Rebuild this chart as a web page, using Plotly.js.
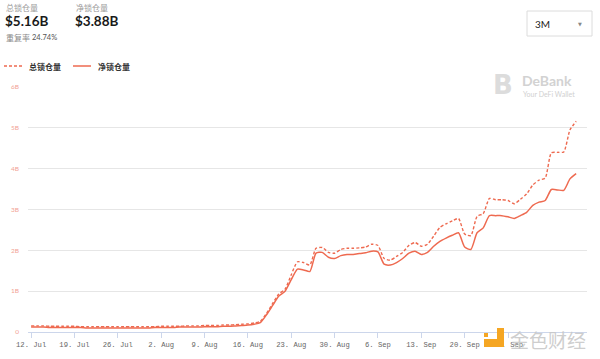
<!DOCTYPE html>
<html>
<head>
<meta charset="utf-8">
<script src="https://cdn.plot.ly/plotly-3.0.1.min.js"></script>
<style>
html,body{margin:0;padding:0;background:#fff;}
#chart{width:600px;height:359px;}
</style>
</head>
<body>
<div id="chart"></div>
<script>
// ---- data (daily, starting 2021-07-12), values in billions USD ----
const startDate = '2021-07-12';
const totalLocked = [
  0.15,0.15,0.15,0.14,0.14,0.14,0.14,
  0.14,0.13,0.13,0.13,0.13,0.13,0.13,
  0.13,0.13,0.13,0.13,0.13,0.13,0.13,
  0.14,0.14,0.14,0.14,0.15,0.15,0.15,
  0.16,0.16,0.16,0.17,0.17,0.18,0.19,
  0.20,0.22,0.26,0.45,0.70,0.93,1.05,
  1.40,1.72,1.70,1.64,2.05,2.07,1.95,
  1.93,2.02,2.05,2.05,2.06,2.08,2.15,
  2.12,1.80,1.76,1.85,1.95,2.12,2.19,
  2.10,2.15,2.35,2.56,2.65,2.72,2.78,
  2.40,2.36,2.83,2.90,3.27,3.24,3.24,
  3.22,3.14,3.25,3.38,3.60,3.72,3.77,
  4.39,4.40,4.41,4.95,5.16
];
const netLocked = [
  0.12,0.12,0.12,0.11,0.11,0.11,0.11,
  0.11,0.11,0.10,0.10,0.10,0.10,0.10,
  0.10,0.10,0.10,0.10,0.10,0.10,0.11,
  0.11,0.11,0.11,0.12,0.12,0.12,0.12,
  0.13,0.13,0.13,0.14,0.14,0.15,0.16,
  0.17,0.19,0.23,0.42,0.65,0.88,1.00,
  1.28,1.54,1.52,1.48,1.93,1.95,1.83,
  1.80,1.87,1.90,1.90,1.92,1.94,1.98,
  1.96,1.66,1.64,1.70,1.80,1.93,1.98,
  1.90,1.95,2.10,2.22,2.30,2.37,2.43,
  2.08,2.02,2.43,2.55,2.85,2.85,2.85,
  2.82,2.78,2.85,2.93,3.10,3.18,3.22,
  3.49,3.48,3.47,3.75,3.88
];
const seriesNames = ['总锁仓量', '净锁仓量'];
const xTickVals = ['2021-07-12','2021-07-19','2021-07-26','2021-08-02','2021-08-09','2021-08-16','2021-08-23','2021-08-30','2021-09-06','2021-09-13','2021-09-20','2021-09-27'];
const xTickText = ['12. Jul','19. Jul','26. Jul','2. Aug','9. Aug','16. Aug','23. Aug','30. Aug','6. Sep','13. Sep','20. Sep','27. Sep'];
const yTickVals = [0,1,2,3,4,5,6];
const yTickText = ['0','1B','2B','3B','4B','5B','6B'];
const summaryLabels = ['总锁仓量', '净锁仓量', '重复率'];
const summaryValues = ['$5.16B', '$3.88B', '24.74%'];
const rangeLabel = '3M';

// build date axis
const dates = [];
{
  const d0 = new Date(startDate + 'T00:00:00Z');
  for (let i = 0; i < totalLocked.length; i++) {
    const d = new Date(d0.getTime() + i * 86400000);
    dates.push(d.toISOString().slice(0, 10));
  }
}

const lineColor = '#ee6a50';
const cjk = '"Noto Sans CJK SC", "Noto Sans", sans-serif';

// page layout geometry (pixels)
const W = 600, H = 359, ML = 28, MR = 13, MT = 87, MB = 27;
const PW = W - ML - MR, PH = H - MT - MB;
const px = x => (x - ML) / PW;
const py = y => (H - MB - y) / PH;

const traces = [
  {x: dates, y: totalLocked, name: seriesNames[0], type: 'scatter', mode: 'lines',
   line: {color: lineColor, width: 1.4, dash: '3px,2px', shape: 'spline', smoothing: 0.6}, hoverinfo: 'x+y'},
  {x: dates, y: netLocked, name: seriesNames[1], type: 'scatter', mode: 'lines',
   line: {color: lineColor, width: 1.5, shape: 'spline', smoothing: 0.6}, hoverinfo: 'x+y'}
];

const annotations = [];
function ann(x, y, text, font, anchor) {
  annotations.push({xref:'paper', yref:'paper', x: px(x), y: py(y), text: text,
    showarrow:false, xanchor: anchor || 'left', yanchor:'middle', font: font});
}
ann(4, 7, summaryLabels[0], {family: cjk, size: 8, color: '#9a9a9a'});
ann(74, 7, summaryLabels[1], {family: cjk, size: 8, color: '#9a9a9a'});
ann(3, 21, '<b>' + summaryValues[0] + '</b>', {family: 'Lato, sans-serif', size: 13.5, color: '#1a1a1a'});
ann(73, 21, '<b>' + summaryValues[1] + '</b>', {family: 'Lato, sans-serif', size: 13.5, color: '#1a1a1a'});
ann(4, 37.5, summaryLabels[2], {family: cjk, size: 8, color: '#8a8a8a'});
ann(30, 37.5, summaryValues[2], {family: 'Lato, sans-serif', size: 7.5, color: '#555'});
// legend
ann(27, 66, '<b>' + seriesNames[0] + '</b>', {family: cjk, size: 8, color: '#333'});
ann(96, 66, '<b>' + seriesNames[1] + '</b>', {family: cjk, size: 8, color: '#333'});
// dropdown
ann(533, 24, rangeLabel, {family: 'Lato, sans-serif', size: 10, color: '#222'});
ann(580, 24, '▼', {family: 'DejaVu Sans, sans-serif', size: 5, color: '#888'}, 'center');
// DeBank watermark
ann(503, 85, '<b>B</b>', {family: 'DejaVu Sans, sans-serif', size: 26, color: '#dcdcdc'}, 'center');
ann(520, 81, '<b>DeBank</b>', {family: 'Lato, sans-serif', size: 14, color: '#d2d2d2'});
ann(521, 93.5, 'Your DeFi Wallet', {family: 'Lato, sans-serif', size: 7, color: '#d0d0d0'});
// Jinse watermark
ann(508, 339, '金色财经', {family: cjk, size: 19, color: 'rgba(200,200,200,0.9)'});

const shapes = [
  // legend symbols
  {type:'line', xref:'paper', yref:'paper', x0:px(4), x1:px(23), y0:py(66), y1:py(66),
   line:{color: lineColor, width:1.3, dash:'3px,2px'}},
  {type:'line', xref:'paper', yref:'paper', x0:px(73), x1:px(91), y0:py(66), y1:py(66),
   line:{color: lineColor, width:1.5}},
  // dropdown box
  {type:'rect', xref:'paper', yref:'paper', x0:px(527), x1:px(592), y0:py(36), y1:py(11),
   line:{color:'#dcdcdc', width:1}, fillcolor:'#fff', layer:'below'},
  // jinse icon
  {type:'rect', xref:'paper', yref:'paper', x0:px(484), x1:px(488), y0:py(337), y1:py(333),
   line:{width:0}, fillcolor:'#f5a623'},
  {type:'rect', xref:'paper', yref:'paper', x0:px(484), x1:px(497), y0:py(347), y1:py(339),
   line:{width:0}, fillcolor:'#f5a623'},
  {type:'rect', xref:'paper', yref:'paper', x0:px(497), x1:px(504), y0:py(347), y1:py(328),
   line:{width:0}, fillcolor:'#f5a623'}
];

const layout = {
  width: W, height: H,
  margin: {l: ML, r: MR, t: MT, b: MB, pad: 0},
  paper_bgcolor: '#fff', plot_bgcolor: '#fff',
  showlegend: false,
  xaxis: {
    type: 'date',
    range: ['2021-07-11 12:00', '2021-10-09 18:00'],
    tickvals: xTickVals, ticktext: xTickText,
    ticks: 'outside', ticklen: 5, tickcolor: '#ccd6eb', tickwidth: 1,
    showline: true, linecolor: '#ccd6eb', linewidth: 1,
    showgrid: false, zeroline: false,
    tickfont: {family: '"Liberation Mono", monospace', size: 7.2, color: '#666'},
    fixedrange: true
  },
  yaxis: {
    range: [0, 6],
    tickvals: yTickVals, ticktext: yTickText,
    showgrid: true, gridcolor: '#e6e6e6', gridwidth: 1,
    zeroline: false, showline: false, ticks: '',
    ticklabelstandoff: 8,
    tickfont: {family: 'Lato, sans-serif', size: 6.5, color: '#f2a295'},
    fixedrange: true
  },
  annotations: annotations,
  shapes: shapes
};

Plotly.newPlot('chart', traces, layout, {displayModeBar: false, staticPlot: true});
</script>
</body>
</html>
